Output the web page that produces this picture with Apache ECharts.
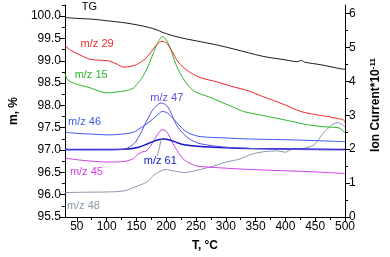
<!DOCTYPE html>
<html><head><meta charset="utf-8">
<script src="https://cdn.jsdelivr.net/npm/echarts@6/dist/echarts.min.js"></script>
<style>html,body{margin:0;padding:0;background:#fff}#c{width:390px;height:257px}</style>
</head><body><div id="c"></div>
<script>
// Tick labels
const xTicks = [50,100,150,200,250,300,350,400,450,500];
const xMinor = [75,125,175,225,275,325,375,425,475];
const leftTicks = [95.5,96.0,96.5,97.0,97.5,98.0,98.5,99.0,99.5,100.0];
const leftMinor = [95.75,96.25,96.75,97.25,97.75,98.25,98.75,99.25,99.75,100.25];
const rightTicks = [0,1,2,3,4,5,6];
const rightMinor = [0.5,1.5,2.5,3.5,4.5,5.5];

// Series values [T (°C), value]
const tg = [[30,99.97],[50,99.95],[78,99.93],[105,99.89],[131,99.85],[153,99.80],[170,99.75],[185,99.69],[193,99.64],[209,99.57],[230,99.50],[257,99.43],[290,99.34],[338,99.18],[362,99.10],[400,99.02],[420,98.98],[427,99.01],[432,98.97],[460,98.91],[493,98.82],[500,98.81]];
const mz29 = [[30,5.06],[35,4.98],[40,4.91],[55,4.78],[72,4.65],[90,4.62],[104,4.60],[118,4.50],[128,4.42],[147,4.47],[160,4.60],[169,4.74],[178,4.95],[185,5.10],[193,5.18],[201,5.12],[210,4.88],[220,4.57],[236,4.31],[257,4.11],[284,3.99],[310,3.85],[338,3.72],[362,3.55],[378,3.45],[400,3.30],[426,3.11],[450,3.02],[475,2.95],[491,2.89],[497,2.87],[500,2.78]];
const mz15 = [[30,4.23],[35,4.04],[46,3.94],[72,3.81],[99,3.66],[115,3.68],[131,3.72],[145,3.80],[152,3.94],[160,4.12],[169,4.42],[177,4.77],[185,5.11],[194,5.32],[200,5.22],[206,5.01],[217,4.47],[230,4.04],[246,3.72],[273,3.53],[311,3.25],[330,3.11],[360,3.00],[383,2.92],[410,2.82],[437,2.72],[465,2.66],[491,2.62],[500,2.48]];
const mz46 = [[30,2.51],[40,2.48],[55,2.46],[80,2.44],[103,2.42],[130,2.45],[145,2.50],[152,2.57],[169,2.77],[185,3.00],[193,3.11],[201,3.08],[209,2.95],[217,2.80],[230,2.56],[241,2.45],[257,2.37],[300,2.33],[338,2.30],[418,2.27],[500,2.22]];
const mz47 = [[30,1.98],[100,1.98],[129,2.00],[140,2.08],[148,2.20],[158,2.50],[169,2.90],[177,3.15],[185,3.30],[191,3.36],[197,3.33],[203,3.24],[209,3.03],[217,2.72],[230,2.43],[241,2.28],[257,2.16],[306,2.05],[418,1.99],[500,1.98]];
const mz61 = [[30,1.99],[129,2.00],[152,2.05],[169,2.16],[185,2.27],[196,2.30],[206,2.27],[217,2.20],[230,2.13],[257,2.08],[338,2.02],[500,1.99]];
const mz45 = [[30,1.74],[45,1.70],[72,1.65],[103,1.62],[130,1.64],[145,1.72],[152,1.84],[160,1.92],[166,1.94],[173,2.08],[180,2.28],[187,2.47],[193,2.57],[199,2.55],[204,2.42],[214,2.08],[228,1.72],[240,1.58],[252,1.50],[290,1.45],[330,1.41],[370,1.38],[450,1.33],[500,1.28]];
const mz48 = [[30,0.72],[60,0.73],[105,0.74],[129,0.77],[153,0.92],[169,1.05],[177,1.20],[185,1.30],[198,1.40],[215,1.35],[230,1.31],[257,1.40],[279,1.50],[300,1.62],[322,1.70],[343,1.85],[362,1.92],[385,1.95],[400,1.91],[410,1.99],[430,2.02],[448,2.13],[464,2.48],[480,2.74],[488,2.78],[495,2.73],[500,2.65]];

// Annotation anchors (data coordinates)
const tgLabelAt = [71, 100.2];
const labelAt = {
  'm/z 29': [84, 5.09], 'm/z 15': [74, 4.18], 'm/z 46': [63, 2.81], 'm/z 47': [201, 3.51],
  'm/z 61': [190, 1.64], 'm/z 45': [66, 1.32], 'm/z 48': [61, 0.32]
};
const leader61 = [[192, 2.30], [185, 1.80]];

const FONT = 'Liberation Sans, Arial, sans-serif';
const chart = echarts.init(document.getElementById('c'), null, {renderer: 'canvas'});

function ann(name, color) {
  return {
    symbol: 'circle', symbolSize: 0, silent: true, animation: false,
    label: {show: true, position: 'inside', formatter: name, color: color, fontSize: 11, fontFamily: FONT},
    data: [{coord: labelAt[name]}]
  };
}
function ms(name, data, color, width) {
  return {
    type: 'line', name: name, data: data, xAxisIndex: 0, yAxisIndex: 1,
    showSymbol: false, symbol: 'none', smooth: 0.3, animation: false,
    lineStyle: {color: color, width: width || 1}, itemStyle: {color: color},
    markPoint: ann(name, color)
  };
}
const s61 = ms('m/z 61', mz61, '#1414c8', 1.5);
s61.markLine = {
  symbol: 'none', silent: true, animation: false, label: {show: false},
  lineStyle: {color: '#8a96a8', width: 1, type: 'solid'},
  data: [[{coord: leader61[0]}, {coord: leader61[1]}]]
};

const axisBase = {
  axisLine: {show: true, lineStyle: {color: '#000', width: 1}},
  splitLine: {show: false},
  axisLabel: {color: '#000', fontSize: 12, fontFamily: FONT},
  nameTextStyle: {color: '#000', fontWeight: 'bold', fontSize: 12, fontFamily: FONT}
};

chart.setOption({
  animation: false,
  grid: {left: 59, right: 39, top: 5, bottom: 39, containLabel: false},
  xAxis: [
    Object.assign({}, axisBase, {
      type: 'value', min: 30, max: 500, position: 'bottom',
      name: 'T, °C', nameLocation: 'middle', nameGap: 23,
      axisTick: {show: true, length: 5, inside: false, customValues: xTicks, lineStyle: {color: '#000'}},
      axisLabel: Object.assign({}, axisBase.axisLabel, {customValues: xTicks, margin: 4})
    }),
    {type: 'value', min: 30, max: 500, position: 'bottom', axisLine: {show: false}, splitLine: {show: false},
     axisLabel: {show: false}, axisTick: {show: true, length: 3, customValues: xMinor, lineStyle: {color: '#000'}}}
  ],
  yAxis: [
    Object.assign({}, axisBase, {
      type: 'value', min: 95.5, max: 100.25, position: 'left',
      name: 'm, %', nameLocation: 'middle', nameGap: 44, nameRotate: 90,
      axisTick: {show: true, length: 5, customValues: leftTicks, lineStyle: {color: '#000'}},
      axisLabel: Object.assign({}, axisBase.axisLabel, {customValues: leftTicks, margin: 4,
        formatter: v => Number(v).toFixed(1)})
    }),
    Object.assign({}, axisBase, {
      type: 'value', min: 0, max: 6.25, position: 'right',
      name: 'Ion Current*10{sup|-11}', nameLocation: 'middle', nameGap: 24, nameRotate: 90,
      nameTextStyle: Object.assign({}, axisBase.nameTextStyle, {
        padding: [0, 0, 0, 12],
        rich: {sup: {fontSize: 8, fontWeight: 'bold', fontFamily: FONT, color: '#000', verticalAlign: 'top', padding: [0,0,6,0]}}
      }),
      axisTick: {show: true, length: 5, customValues: rightTicks, lineStyle: {color: '#000'}},
      axisLabel: Object.assign({}, axisBase.axisLabel, {customValues: rightTicks, margin: 4})
    }),
    {type: 'value', min: 95.5, max: 100.25, position: 'left', axisLine: {show: false}, splitLine: {show: false},
     axisLabel: {show: false}, axisTick: {show: true, length: 3, customValues: leftMinor, lineStyle: {color: '#000'}}},
    {type: 'value', min: 0, max: 6.25, position: 'right', axisLine: {show: false}, splitLine: {show: false},
     axisLabel: {show: false}, axisTick: {show: true, length: 3, customValues: rightMinor, lineStyle: {color: '#000'}}}
  ],
  series: [
    {
      type: 'line', name: 'TG', data: tg, xAxisIndex: 0, yAxisIndex: 0, showSymbol: false, symbol: 'none',
      smooth: 0.3, lineStyle: {color: '#1a1a1a', width: 1},
      markPoint: {symbol: 'circle', symbolSize: 0, silent: true,
        label: {show: true, position: 'inside', formatter: 'TG', color: '#000', fontSize: 11, fontFamily: FONT},
        data: [{coord: tgLabelAt}]}
    },
    ms('m/z 48', mz48, '#8a98ac', 1),
    ms('m/z 45', mz45, '#d03ee8', 1),
    s61,
    ms('m/z 47', mz47, '#5e4fe0', 1),
    ms('m/z 46', mz46, '#3d5cf0', 1),
    ms('m/z 15', mz15, '#2db52a', 1),
    ms('m/z 29', mz29, '#f0282d', 1)
  ]
});
</script></body></html>
